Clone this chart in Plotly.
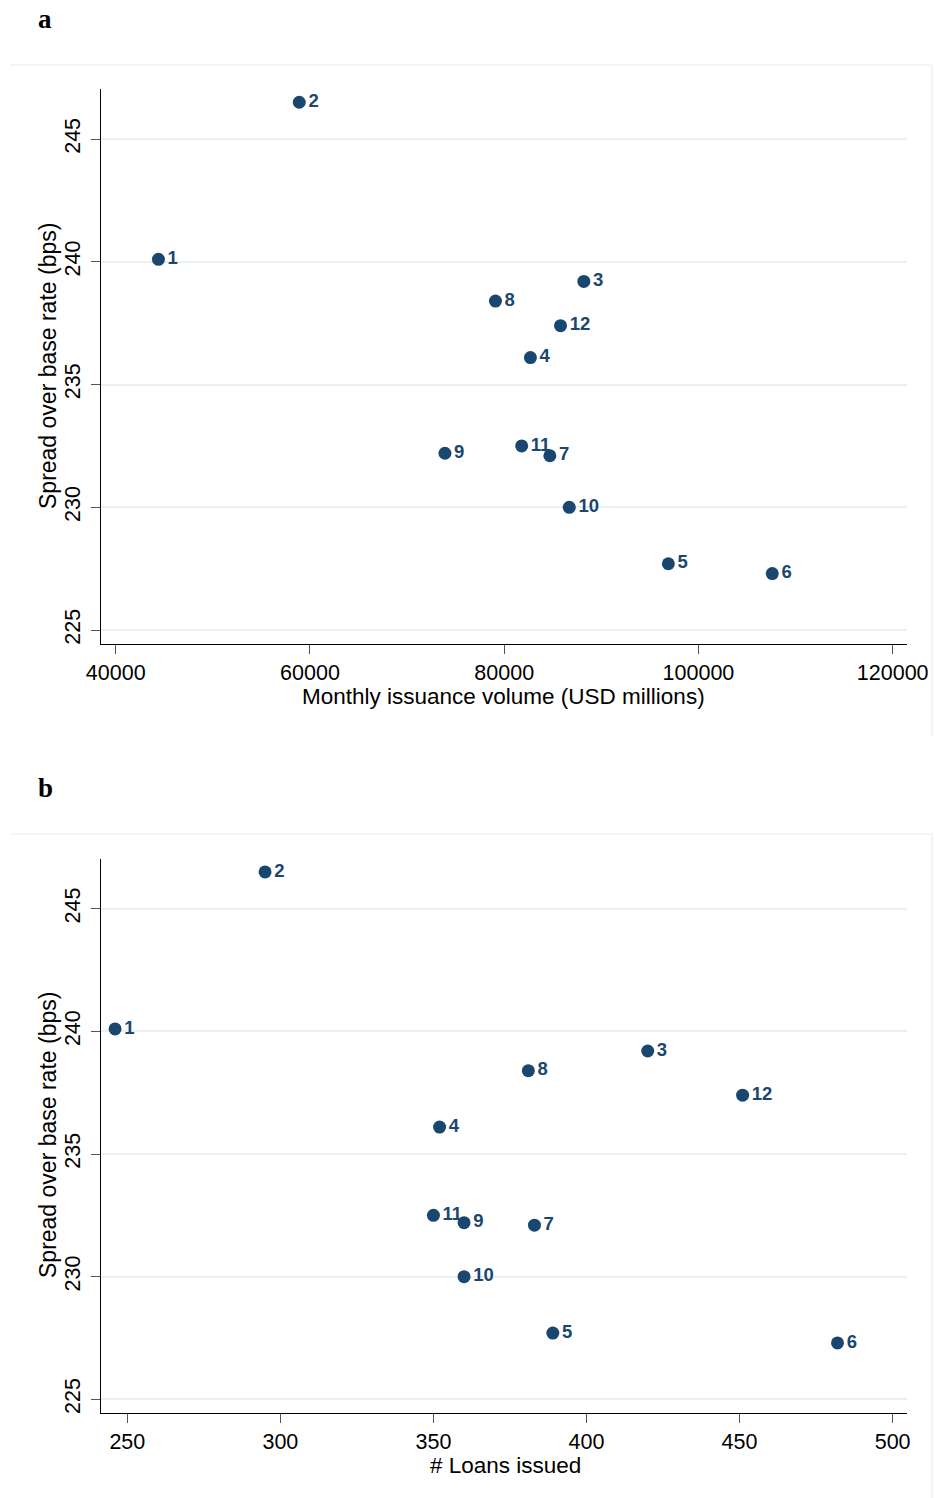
import plotly.graph_objects as go

# Monthly observations (month number used as marker label)
months = ["1", "2", "3", "4", "5", "6", "7", "8", "9", "10", "11", "12"]
spread_bps = [240.1, 246.5, 239.2, 236.1, 227.7, 227.3, 232.1, 238.4, 232.2, 230.0, 232.5, 237.4]
issuance_usd_mn = [44400, 58900, 88200, 82700, 96900, 107600, 84700, 79100, 73900, 86700, 81800, 85800]
loans_issued = [246, 295, 420, 352, 389, 482, 383, 381, 360, 360, 350, 451]

y_ticks = [225, 230, 235, 240, 245]
xa_ticks = [40000, 60000, 80000, 100000, 120000]
xb_ticks = [250, 300, 350, 400, 450, 500]

W, H = 935, 1498
NAVY = "#1a476f"
GRID = "#e8f0f2"
SANS = "Liberation Sans, Arial, sans-serif"

fig = go.Figure()

for xs, xaxis, yaxis in [(issuance_usd_mn, "x", "y"), (loans_issued, "x2", "y2")]:
    fig.add_trace(go.Scatter(
        x=xs, y=spread_bps, text=months, mode="markers+text",
        textposition="middle right",
        marker=dict(color=NAVY, size=13),
        textfont=dict(family=SANS, size=18.5, color=NAVY, weight="bold"),
        xaxis=xaxis, yaxis=yaxis, showlegend=False, cliponaxis=False,
    ))

def px_x(p):
    return p / W

def px_y(p):
    return 1 - p / H

axis_common = dict(
    showline=True, linecolor="black", linewidth=1.3, mirror=False,
    ticks="outside", ticklen=9, tickwidth=1.3, tickcolor="#555555",
    tickfont=dict(family=SANS, size=21.5, color="black"),
    zeroline=False, automargin=False,
)

x_dom = [px_x(101), px_x(907)]
fig.update_layout(
    width=W, height=H, autosize=False,
    margin=dict(l=0, r=0, t=0, b=0, autoexpand=False),
    paper_bgcolor="white", plot_bgcolor="white",
    xaxis=dict(domain=x_dom, anchor="y", range=[38486, 121473],
               tickvals=xa_ticks, tickformat="d", showgrid=False, **axis_common),
    yaxis=dict(domain=[px_y(644), px_y(89)], anchor="x", range=[224.43, 247.04],
               tickvals=y_ticks, tickangle=-90, showgrid=True, gridcolor=GRID,
               gridwidth=1.5, ticklabelstandoff=2, **axis_common),
    xaxis2=dict(domain=x_dom, anchor="y2", range=[241.4, 504.7],
                tickvals=xb_ticks, tickformat="d", showgrid=False, **axis_common),
    yaxis2=dict(domain=[px_y(1413.3), px_y(858.7)], anchor="x2", range=[224.43, 247.04],
                tickvals=y_ticks, tickangle=-90, showgrid=True, gridcolor=GRID,
                gridwidth=1.5, ticklabelstandoff=2, **axis_common),
)

# Panel frames (top and right edges)
for top, bottom in [(65, 736), (834, 1498)]:
    fig.add_shape(type="line", xref="paper", yref="paper",
                  x0=px_x(10), x1=px_x(932), y0=px_y(top), y1=px_y(top),
                  line=dict(color="#ececec", width=1.2))
    fig.add_shape(type="line", xref="paper", yref="paper",
                  x0=px_x(932), x1=px_x(932), y0=px_y(top), y1=px_y(bottom),
                  line=dict(color="#ececec", width=1.2))

annotations = [
    dict(text="<b>a</b>", x=px_x(45), y=px_y(19), font=dict(family="Liberation Serif, Times New Roman, serif", size=27, color="black")),
    dict(text="<b>b</b>", x=px_x(45), y=px_y(788), font=dict(family="Liberation Serif, Times New Roman, serif", size=27, color="black")),
    dict(text="Monthly issuance volume (USD millions)", x=px_x(503), y=px_y(696),
         font=dict(family=SANS, size=22.5, color="black")),
    dict(text="# Loans issued", x=px_x(505), y=px_y(1465),
         font=dict(family=SANS, size=22.5, color="black")),
    dict(text="Spread over base rate (bps)", x=px_x(48), y=px_y(366), textangle=-90,
         font=dict(family=SANS, size=23, color="black")),
    dict(text="Spread over base rate (bps)", x=px_x(48), y=px_y(1135), textangle=-90,
         font=dict(family=SANS, size=23, color="black")),
]
for a in annotations:
    fig.add_annotation(xref="paper", yref="paper", showarrow=False,
                       xanchor="center", yanchor="middle", **a)

fig.write_html("out.html")
